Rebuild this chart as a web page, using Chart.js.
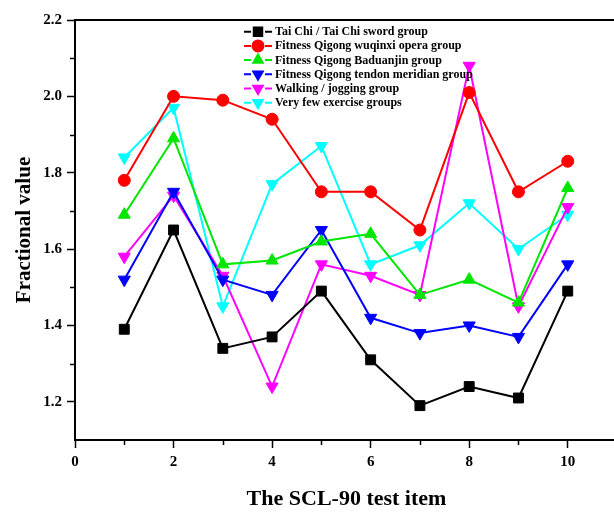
<!DOCTYPE html>
<html>
<head>
<meta charset="utf-8">
<script src="https://cdn.jsdelivr.net/npm/chart.js@4.4.1/dist/chart.umd.min.js"></script>
<style>
  html, body { margin: 0; padding: 0; background: #fff; overflow: hidden; }
  #wrap { width: 614px; height: 517px; overflow: hidden; }
</style>
</head>
<body>
<div id="wrap"><canvas id="chart" width="626" height="517"></canvas></div>
<script>
// SCL-90 test items 1..10
const items = [1, 2, 3, 4, 5, 6, 7, 8, 9, 10];
const taiChi     = [1.39, 1.65, 1.34, 1.37, 1.49, 1.31, 1.19, 1.24, 1.21, 1.49];
const wuqinxi    = [1.78, 2.00, 1.99, 1.94, 1.75, 1.75, 1.65, 2.01, 1.75, 1.83];
const baduanjin  = [1.69, 1.89, 1.56, 1.57, 1.62, 1.64, 1.48, 1.52, 1.46, 1.76];
const tendon     = [1.52, 1.75, 1.52, 1.48, 1.65, 1.42, 1.38, 1.40, 1.37, 1.56];
const walking    = [1.58, 1.74, 1.53, 1.24, 1.56, 1.53, 1.48, 2.08, 1.45, 1.71];
const fewExercise = [1.84, 1.97, 1.45, 1.77, 1.87, 1.56, 1.61, 1.72, 1.60, 1.69];

const seriesNames = [
  "Tai Chi / Tai Chi sword group",
  "Fitness Qigong wuqinxi opera group",
  "Fitness Qigong Baduanjin group",
  "Fitness Qigong tendon meridian group",
  "Walking / jogging group",
  "Very few exercise groups"
];

const xTickValues = [0, 2, 4, 6, 8, 10];
const xMinorValues = [1, 3, 5, 7, 9, 11];
const yTickValues = [1.2, 1.4, 1.6, 1.8, 2.0, 2.2];
const yMinorValues = [1.3, 1.5, 1.7, 1.9, 2.1];

const FONT = '"Liberation Serif", "Times New Roman", serif';

function pts(vals) {
  return items.map((x, i) => ({ x: x, y: vals[i] }));
}

function ds(label, vals, color, style, radius, rotation) {
  return {
    label: label,
    data: pts(vals),
    borderColor: color,
    backgroundColor: color,
    pointBackgroundColor: color,
    pointBorderColor: color,
    borderWidth: 2,
    pointStyle: style,
    pointRadius: radius,
    pointHoverRadius: radius,
    pointRotation: rotation || 0,
    pointBorderWidth: 1,
    tension: 0
  };
}

// extra axis decorations: top border line and minor ticks
const axisExtras = {
  id: 'axisExtras',
  afterDraw(chart) {
    const ctx = chart.ctx;
    const a = chart.chartArea;
    const xs = chart.scales.x, ys = chart.scales.y;
    ctx.save();
    ctx.strokeStyle = '#000';
    ctx.lineWidth = 2;
    ctx.beginPath();
    ctx.moveTo(a.left, a.top);
    ctx.lineTo(a.right, a.top);
    ctx.stroke();
    ctx.lineWidth = 1.5;
    ctx.beginPath();
    yMinorValues.forEach(v => {
      const y = Math.round(ys.getPixelForValue(v)) + 0.5;
      ctx.moveTo(a.left - 5, y);
      ctx.lineTo(a.left, y);
    });
    xMinorValues.forEach(v => {
      const x = Math.round(xs.getPixelForValue(v)) + 0.5;
      ctx.moveTo(x, a.bottom);
      ctx.lineTo(x, a.bottom + 5);
    });
    ctx.stroke();
    ctx.restore();
  }
};

// legend drawn inside the plot, Origin style
const innerLegend = {
  id: 'innerLegend',
  afterDatasetsDraw(chart) {
    const ctx = chart.ctx;
    const a = chart.chartArea;
    const x0 = a.left + 169, y0 = a.top + 11.7, row = 14.2;
    ctx.save();
    chart.data.datasets.forEach((d, i) => {
      const y = y0 + i * row;
      ctx.strokeStyle = d.borderColor;
      ctx.lineWidth = 2;
      ctx.beginPath();
      ctx.moveTo(x0, y); ctx.lineTo(x0 + 7, y);
      ctx.moveTo(x0 + 21, y); ctx.lineTo(x0 + 28, y);
      ctx.stroke();
      ctx.fillStyle = d.backgroundColor;
      Chart.helpers.drawPoint(ctx, {
        pointStyle: d.pointStyle,
        radius: d.pointStyle === 'rect' ? 6 : 5.5,
        rotation: d.pointRotation,
        borderWidth: 1
      }, x0 + 14, y);
      ctx.fillStyle = '#000';
      ctx.font = 'bold 12px ' + FONT;
      ctx.textBaseline = 'middle';
      ctx.textAlign = 'left';
      ctx.fillText(d.label, x0 + 31, y + 0.5);
    });
    ctx.restore();
  }
};

const ctx = document.getElementById('chart').getContext('2d');
window.chart = new Chart(ctx, {
  type: 'line',
  data: {
    datasets: [
      ds(seriesNames[0], taiChi, '#000000', 'rect', 7),
      ds(seriesNames[1], wuqinxi, '#ff0000', 'circle', 6),
      ds(seriesNames[2], baduanjin, '#00e600', 'triangle', 7),
      ds(seriesNames[3], tendon, '#0000ff', 'triangle', 7, 180),
      ds(seriesNames[4], walking, '#ff00ff', 'triangle', 7, 180),
      ds(seriesNames[5], fewExercise, '#00ffff', 'triangle', 7, 180)
    ]
  },
  options: {
    responsive: false,
    animation: false,
    clip: false,
    layout: { padding: { top: 20, right: 0, left: 0, bottom: 0 } },
    plugins: {
      legend: { display: false },
      tooltip: { enabled: false }
    },
    scales: {
      x: {
        type: 'linear',
        min: 0,
        max: 11.02,
        afterBuildTicks: s => { s.ticks = xTickValues.map(v => ({ value: v })); },
        afterFit: s => { s.height = 77; },
        grid: { drawOnChartArea: false, drawTicks: true, tickLength: 8, tickColor: '#000', tickWidth: 1.5 },
        border: { display: true, color: '#000', width: 2 },
        ticks: {
          color: '#000',
          padding: 5,
          maxRotation: 0,
          font: { family: FONT, size: 15, weight: 'bold' }
        },
        title: {
          display: true,
          text: 'The SCL-90 test item',
          color: '#000',
          font: { family: FONT, size: 22, weight: 'bold', lineHeight: 1.2 },
          padding: { top: 0, bottom: 4 }
        }
      },
      y: {
        type: 'linear',
        min: 1.1,
        max: 2.2,
        afterBuildTicks: s => { s.ticks = yTickValues.map(v => ({ value: v })); },
        afterFit: s => { s.width = 75; },
        grid: { drawOnChartArea: false, drawTicks: true, tickLength: 8, tickColor: '#000', tickWidth: 1.5 },
        border: { display: true, color: '#000', width: 2 },
        ticks: {
          color: '#000',
          padding: 5,
          font: { family: FONT, size: 15, weight: 'bold' },
          callback: v => v.toFixed(1)
        },
        title: {
          display: true,
          text: 'Fractional value',
          color: '#000',
          font: { family: FONT, size: 21, weight: 'bold', lineHeight: 1.2 },
          padding: { top: 12, bottom: 0 }
        }
      }
    }
  },
  plugins: [axisExtras, innerLegend]
});
</script>
</body>
</html>
